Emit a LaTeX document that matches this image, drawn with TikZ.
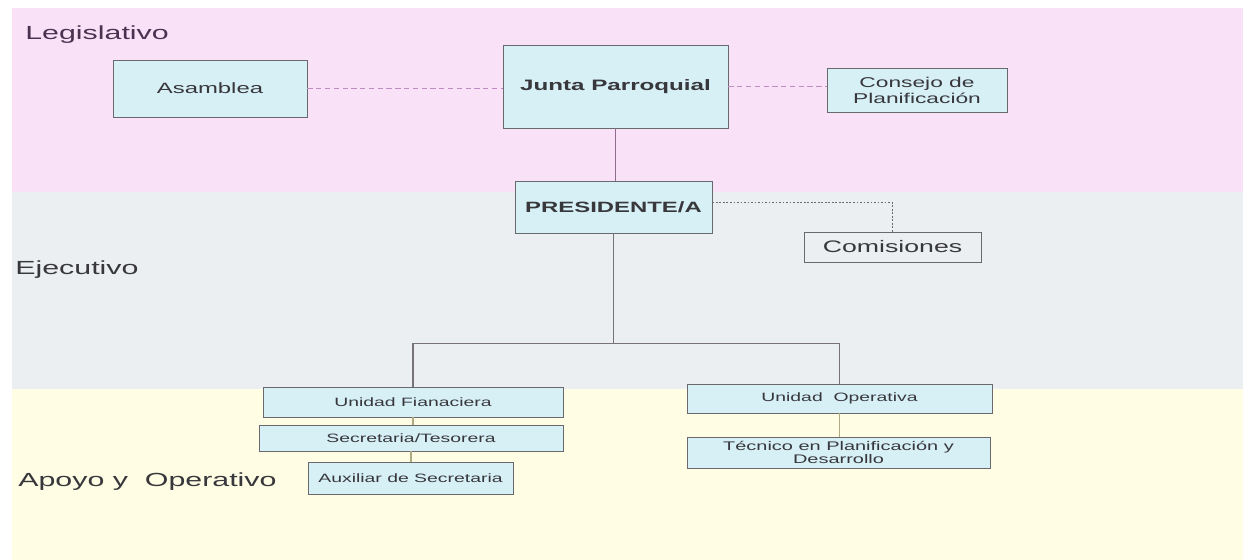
\documentclass[tikz,border=0pt]{standalone}
\usepackage{fontspec}
\setmainfont{Liberation Sans}[FakeStretch=1.6]
\usepackage{tikz}
\usetikzlibrary{positioning,calc}
\usepackage{xcolor}

\definecolor{bandleg}{RGB}{249,226,248}
\definecolor{bandeje}{RGB}{236,239,241}
\definecolor{bandapo}{RGB}{255,253,228}
\definecolor{boxfill}{RGB}{214,240,246}
\definecolor{boxline}{RGB}{105,105,110}
\definecolor{txt}{RGB}{55,55,60}
\definecolor{legtxt}{RGB}{75,50,80}
\definecolor{dashcol}{RGB}{190,140,195}
\definecolor{tiecol}{RGB}{140,110,140}
\definecolor{treecol}{RGB}{120,115,120}
\definecolor{lowcol}{RGB}{175,170,130}

\begin{document}
\begin{tikzpicture}[
  x=0.02cm, y=-0.02cm,
  box/.style={rectangle, draw=boxline, fill=boxfill, line width=0.5pt,
              inner sep=1pt, text=txt, align=center},
  band/.style={font=\fontsize{10.8}{12}\selectfont, text=txt, anchor=west, inner sep=0pt},
  dashln/.style={dashcol, line width=0.6pt, dash pattern=on 3pt off 2pt},
  dotln/.style={boxline, line width=0.6pt, dash pattern=on 1pt off 1pt},
  tree/.style={treecol, line width=0.6pt},
  low/.style={lowcol, line width=0.6pt}
]

% bands
\useasboundingbox (0,0) rectangle (1246,560);
\fill[white] (0,0) rectangle (1246,560);
\fill[bandleg] (12,8)   rectangle (1243,192);
\fill[bandeje] (12,192) rectangle (1243,389);
\fill[bandapo] (12,389) rectangle (1243,560);

\node[band, text=legtxt] (leg) at (25,35)  {Legislativo};
\node[band]              (eje) at (15,270) {Ejecutivo};
\node[band]              (apo) at (18,482) {Apoyo y\ \ Operativo};

% boxes
\node[box, minimum width=3.88cm, minimum height=1.14cm,
      font=\fontsize{8.5}{10}\selectfont] (asam) at (210,88.5) {Asamblea};
\node[box, minimum width=4.5cm, minimum height=1.66cm,
      font=\bfseries\fontsize{8.6}{10}\selectfont] (junta) at (615.5,86.5) {Junta Parroquial};
\node[box, minimum width=3.6cm, minimum height=0.88cm,
      font=\fontsize{8.1}{9.2}\selectfont] (cons) at (917,90) {Consejo de\\Planificación};

\node[box, minimum width=3.94cm, minimum height=1.04cm,
      font=\bfseries\fontsize{8.5}{10}\selectfont] (pres) at (613.5,207) {PRESIDENTE/A};
\node[box, fill=bandeje, minimum width=3.54cm, minimum height=0.6cm,
      font=\fontsize{9.5}{11}\selectfont] (comis) at (892.5,247) {Comisiones};

\node[box, minimum width=6.0cm, minimum height=0.6cm,
      font=\fontsize{6.9}{8}\selectfont] (ufin) at (413,402) {Unidad Fianaciera};
\node[box, minimum width=6.08cm, minimum height=0.52cm,
      font=\fontsize{6.9}{8}\selectfont] (secr) at (411,438) {Secretaria/Tesorera};
\node[box, minimum width=4.1cm, minimum height=0.64cm,
      font=\fontsize{6.9}{8}\selectfont] (aux) at (410.5,478) {Auxiliar de Secretaria};

\node[box, minimum width=6.1cm, minimum height=0.58cm,
      font=\fontsize{6.9}{8}\selectfont] (uope) at (839.5,398.5) {Unidad\ \ Operativa};
\node[box, minimum width=6.06cm, minimum height=0.62cm,
      font=\fontsize{7.1}{7.6}\selectfont] (tecn) at (838.5,452.5) {Técnico en Planificación y\\Desarrollo};

% connectors
\draw[dashln] (asam.east) -- (asam.east -| junta.west);
\draw[dashln] (junta.east) -- (junta.east -| cons.west);
\draw[tiecol, line width=0.6pt] (junta.south) -- (junta.south |- pres.north);
\draw[dotln] ($(pres.north east)!0.42!(pres.south east)$) -| (comis.north);

\coordinate (fork) at ($(pres.south)+(0,110)$);
\draw[tree] (pres.south) -- (fork);
\draw[tree] (fork) -| (ufin.north);
\draw[tree] (fork) -| (uope.north);

\draw[low] (ufin.south) -- (ufin.south |- secr.north);
\draw[low] (secr.south) -- (secr.south |- aux.north);
\draw[low] (uope.south) -- (uope.south |- tecn.north);

\end{tikzpicture}
\end{document}
